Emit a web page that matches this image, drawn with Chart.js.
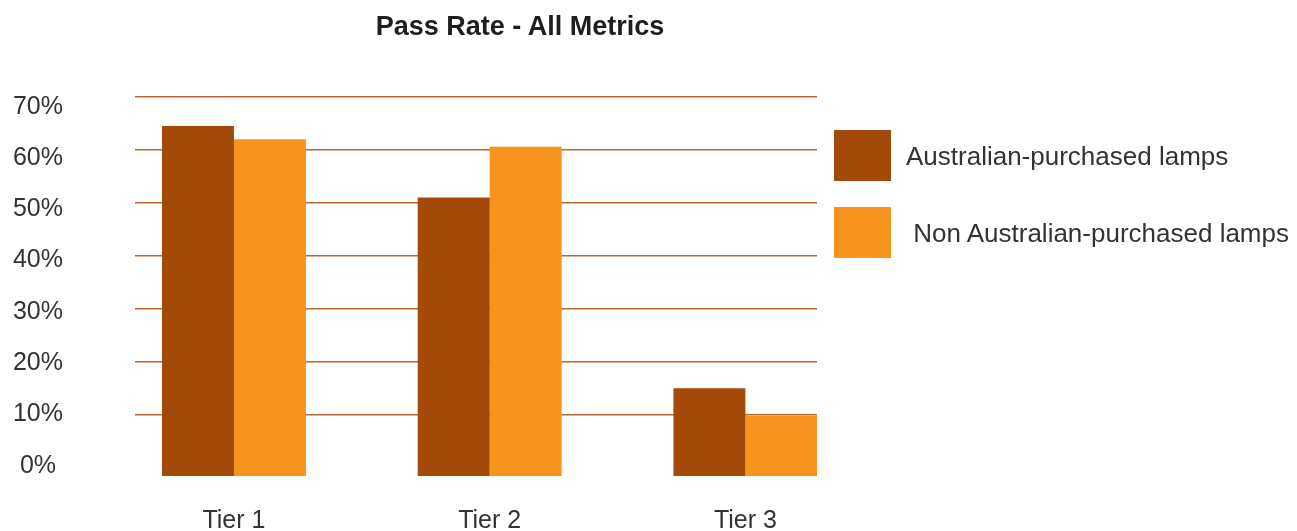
<!DOCTYPE html>
<html>
<head>
<meta charset="utf-8">
<script src="https://cdn.jsdelivr.net/npm/chart.js@4/dist/chart.umd.min.js"></script>
<style>
  html, body { margin: 0; padding: 0; background: #fff; }
  #wrap { position: relative; width: 1297px; height: 531px; overflow: hidden; }
  #chart { position: absolute; left: 0; top: 0; }
  #title { position: absolute; top: 13px; left: 520px; transform: translateX(-50%);
           font: bold 27px/27px "Liberation Sans", Arial, sans-serif; color: #1e1e1e; white-space: nowrap; }
  #legend { position: absolute; left: 834px; top: 130px; }
  .item { display: flex; align-items: center; height: 51px; margin-bottom: 26px; }
  .swatch { width: 57px; height: 51px; flex: none; }
  .label { margin-left: 15px; font: 26px/30px "Liberation Sans", Arial, sans-serif; color: #333; white-space: pre; }
</style>
</head>
<body>
<div id="wrap">
  <canvas id="chart" width="1297" height="531"></canvas>
  <div id="title"></div>
  <div id="legend"></div>
</div>
<script>
// Chart text and data
const chartTitle = 'Pass Rate - All Metrics';
const tiers = ['Tier 1', 'Tier 2', 'Tier 3'];
const seriesNames = ['Australian-purchased lamps', ' Non Australian-purchased lamps'];
const australian = [64.5, 51.0, 15.0];      // % passing, Australian-purchased
const nonAustralian = [62.0, 60.6, 9.8];    // % passing, non Australian-purchased
const yTicks = [0, 10, 20, 30, 40, 50, 60, 70];
const colors = ['#a34a0a', '#f7941e'];

// Layout constants
const FONT = '"Liberation Sans", Arial, sans-serif';
const Y_FLOOR = -1.6;          // bars sit on the plot floor, a little below the 0% line
const Y_MAX = 70;
const LABEL_MIN = -2.0, LABEL_MAX = 71.9;   // value-label column is spaced a touch tighter than the grid
const X_MIN = 0.613, X_MAX = 3.28;          // tier positions are 1..3

document.getElementById('title').textContent = chartTitle;

const datasets = [australian, nonAustralian].map((vals, s) => ({
  label: seriesNames[s],
  data: vals.map((v, i) => ({ x: i + 1, y: v })),
  backgroundColor: colors[s],
  borderWidth: 0,
  xAxisID: 'x',
  yAxisID: 'y'
}));

// HTML legend built from the datasets
const legendEl = document.getElementById('legend');
datasets.forEach(ds => {
  const item = document.createElement('div');
  item.className = 'item';
  const sw = document.createElement('div');
  sw.className = 'swatch';
  sw.style.background = ds.backgroundColor;
  const lb = document.createElement('div');
  lb.className = 'label';
  lb.textContent = ds.label;
  item.appendChild(sw);
  item.appendChild(lb);
  legendEl.appendChild(item);
});

const setYTicks = s => { s.ticks = yTicks.map(v => ({ value: v })); };

new Chart(document.getElementById('chart'), {
  type: 'bar',
  data: { datasets },
  options: {
    responsive: false,
    animation: false,
    layout: { padding: { top: 97, right: 480, left: 0, bottom: 0 } },
    datasets: { bar: { categoryPercentage: 0.563, barPercentage: 1, base: Y_FLOOR } },
    plugins: { legend: { display: false }, title: { display: false }, tooltip: { enabled: false } },
    scales: {
      x: {
        type: 'linear', position: 'bottom', min: X_MIN, max: X_MAX, offset: false,
        grid: { display: false, drawTicks: false, offset: false },
        border: { display: false },
        afterBuildTicks: s => { s.ticks = tiers.map((t, i) => ({ value: i + 1 })); },
        ticks: {
          autoSkip: false, maxRotation: 0, padding: 30, color: '#333',
          font: { family: FONT, size: 25 },
          callback: v => tiers[Math.round(v) - 1] || ''
        },
        afterFit: s => { s.height = 55; s.paddingLeft = 0; s.paddingRight = 0; }
      },
      y: {
        position: 'left', min: Y_FLOOR, max: Y_MAX,
        afterBuildTicks: setYTicks,
        grid: {
          drawTicks: false, lineWidth: 1.4,
          color: c => (c.tick && c.tick.value > 0) ? '#b8692f' : 'rgba(0,0,0,0)'
        },
        border: { display: false },
        ticks: { display: false },
        afterFit: s => { s.width = 0; s.paddingTop = 0; s.paddingBottom = 0; }
      },
      yLabels: {
        position: 'left', min: LABEL_MIN, max: LABEL_MAX,
        afterBuildTicks: setYTicks,
        grid: { display: false, drawTicks: false },
        border: { display: false },
        ticks: {
          crossAlign: 'center', padding: 72, color: '#333',
          font: { family: FONT, size: 25 },
          callback: v => v + '%'
        },
        afterFit: s => { s.width = 135; s.paddingTop = 0; s.paddingBottom = 0; }
      }
    }
  }
});
</script>
</body>
</html>
